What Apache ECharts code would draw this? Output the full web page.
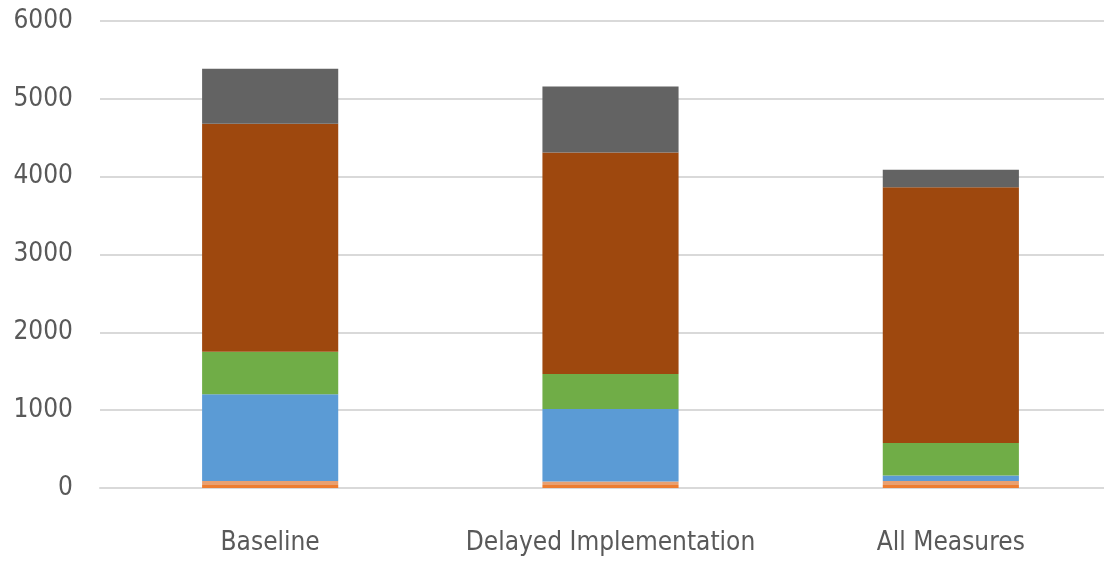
<!DOCTYPE html>
<html>
<head>
<meta charset="utf-8">
<script src="https://cdn.jsdelivr.net/npm/echarts@6/dist/echarts.min.js"></script>
<style>
html,body{margin:0;padding:0;background:#fff;}
#c{width:1104px;height:570px;}
</style>
</head>
<body>
<div id="c"></div>
<script>
const categories = ['Baseline', 'Delayed Implementation', 'All Measures'];
const yTicks = [0, 1000, 2000, 3000, 4000, 5000, 6000];
const sOrange = [40, 40, 40];
const sLightOrange = [50, 45, 50];
const sBlue = [1115, 930, 70];
const sGreen = [547, 450, 418];
const sBrown = [2927, 2845, 3287];
const sGray = [706, 848, 225];

const seriesDefs = [
  {name: 'S1', data: sOrange, color: '#ED7D31'},
  {name: 'S2', data: sLightOrange, color: '#E9A070'},
  {name: 'S3', data: sBlue, color: '#5B9BD5'},
  {name: 'S4', data: sGreen, color: '#70AD47'},
  {name: 'S5', data: sBrown, color: '#9E480E'},
  {name: 'S6', data: sGray, color: '#636363'}
];

const font = '"DejaVu Sans Condensed", "Liberation Sans Narrow", "Liberation Sans", sans-serif';
const chart = echarts.init(document.getElementById('c'), null, {renderer: 'canvas'});
chart.setOption({
  animation: false,
  backgroundColor: '#ffffff',
  grid: {left: 100, width: 1021, top: 21, height: 467, containLabel: false, outerBoundsMode: 'none'},
  xAxis: {
    type: 'category',
    data: categories,
    axisLine: {show: true, lineStyle: {color: '#d9d9d9', width: 2}},
    axisTick: {show: false},
    axisLabel: {color: '#595959', fontFamily: font, fontSize: 26, margin: 42, interval: 0}
  },
  yAxis: {
    type: 'value',
    min: yTicks[0],
    max: yTicks[yTicks.length - 1],
    interval: 1000,
    axisLine: {show: false},
    axisTick: {show: false},
    splitLine: {lineStyle: {color: '#d9d9d9', width: 2}},
    axisLabel: {color: '#595959', fontFamily: font, fontSize: 26, margin: 27, formatter: v => String(v)}
  },
  series: seriesDefs.map(s => ({
    name: s.name,
    type: 'bar',
    stack: 'total',
    barWidth: '40%',
    data: s.data,
    itemStyle: {color: s.color}
  }))
});
</script>
</body>
</html>
